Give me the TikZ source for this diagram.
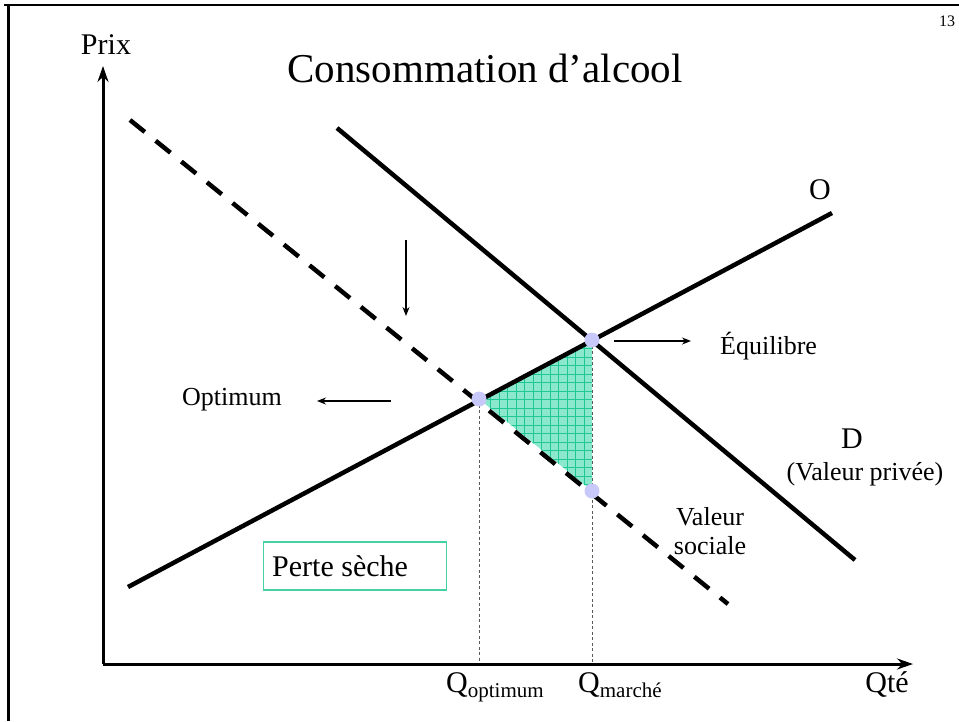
\documentclass[tikz,border=0pt]{standalone}
\usepackage{fontspec}
\setmainfont{Liberation Serif}
\usetikzlibrary{arrows.meta}
\definecolor{dotc}{RGB}{200,200,250}
\definecolor{tealfill}{RGB}{140,232,205}
\definecolor{tealgrid}{RGB}{30,200,150}
\definecolor{boxc}{RGB}{70,210,160}
\tikzset{
  big/.style={font=\fontsize{30}{34}\selectfont, inner sep=0pt},
  mid/.style={font=\fontsize{26}{29}\selectfont, inner sep=0pt},
  thickline/.style={line width=4.5pt},
  dashline/.style={line width=4.5pt, dash pattern=on 19pt off 14pt},
  thinarrow/.style={line width=1.4pt, -{Stealth[length=9pt,width=7pt]}},
  axis/.style={line width=3pt, -{Stealth[length=16pt,width=11pt]}},
  guide/.style={line width=1pt, gray!70!black, dash pattern=on 3pt off 2.5pt},
  pt/.style={circle, fill=dotc, inner sep=0pt, minimum size=15pt},
}
\begin{document}
\begin{tikzpicture}[x=1pt,y=-1pt]
\useasboundingbox (0,0) rectangle (959,721);
% frame
\draw[line width=2.5pt] (4,5) -- (959,5);
\draw[line width=3pt] (8,4) -- (8,721);
\node[font=\fontsize{16}{18}\selectfont, inner sep=0pt, anchor=west] (num) at (939,21) {13};
% title and axis labels
\node[font=\fontsize{41}{46}\selectfont, inner sep=0pt] (title) at (485,68) {Consommation d’alcool};
\node[big] (prix) at (106,45) {Prix};
\node[big] (qte) at (887,684) {Qté};
% key points
\coordinate (orig) at (103,664);
\coordinate (ytip) at (103,66);
\coordinate (xtip) at (913,664);
\coordinate (Os) at (128,587);
\coordinate (Oe) at (832,213);
\coordinate (Ds) at (337,128);
\coordinate (De) at (855,560);
\coordinate (Ss) at (130,120);
\coordinate (Se) at (728,604);
\coordinate (A) at (479,399);
\coordinate (B) at (592,340);
\coordinate (C) at (592,491);
% shaded triangle
\fill[tealfill] (A) -- (B) -- (C) -- cycle;
\begin{scope}
\clip (A) -- (B) -- (C) -- cycle;
\foreach \i in {0,...,13} {\draw[tealgrid, line width=0.8pt] (482+\i*8.5,330) -- (482+\i*8.5,500);}
\foreach \j in {0,...,19} {\draw[tealgrid, line width=0.8pt] (470,340+\j*8.5) -- (600,340+\j*8.5);}
\end{scope}
% guides
\draw[guide] (A) -- (479,664);
\draw[guide] (B) -- (592,664);
% curves
\draw[thickline] (Os) -- (Oe);
\draw[thickline] (Ds) -- (De);
\draw[dashline] (Ss) -- (Se);
% axes
\draw[axis] (orig) -- (ytip);
\draw[axis] (orig) -- (xtip);
% dots
\node[pt] (pa) at (A) {};
\node[pt] (pb) at (B) {};
\node[pt] (pc) at (C) {};
% labels
\node[big] (lO) at (820,190) {O};
\node[big] (lD) at (852,439) {D};
\node[mid] (lDp) at (865,474) {(Valeur privée)};
\node[mid, align=center] (lS) at (710,531) {Valeur\\sociale};
\node[mid] (lopt) at (232,400) {Optimum};
\node[mid, anchor=west] (leq) at (720,346) {Équilibre};
\node[big, draw=boxc, line width=1.2pt, minimum width=183pt, minimum height=48pt, inner xsep=8pt, anchor=west, text depth=0pt] (perte) at (263,566) {Perte sèche\hspace*{30pt}};
% arrows
\coordinate (dTop) at (406,240);
\coordinate (dBot) at (406,316);
\draw[thinarrow] (dTop) -- (dBot);
\coordinate (oFrom) at (391,401);
\coordinate (oTo) at (317,401);
\draw[thinarrow] (oFrom) -- (oTo);
\coordinate (eFrom) at (614,341);
\coordinate (eTo) at (691,341);
\draw[thinarrow] (eFrom) -- (eTo);
% Q labels
\node[big, anchor=base west] (qo) at (446,692) {Q\raisebox{-5pt}{\fontsize{21}{24}\selectfont optimum}};
\node[big, anchor=base west] (qm) at (578,692) {Q\raisebox{-5pt}{\fontsize{21}{24}\selectfont marché}};
\end{tikzpicture}
\end{document}
